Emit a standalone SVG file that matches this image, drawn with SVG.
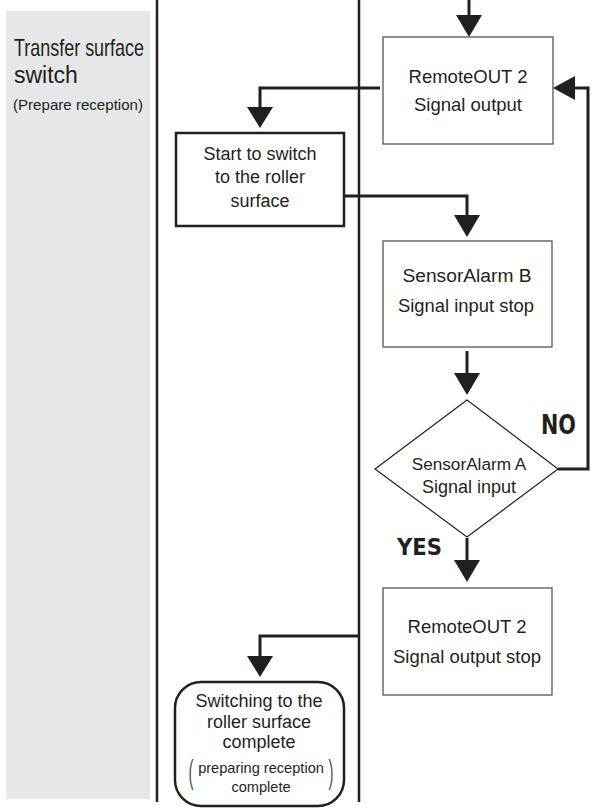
<svg xmlns="http://www.w3.org/2000/svg" width="600" height="809" viewBox="0 0 600 809">
<defs>
<style>
.t{font-family:"Liberation Sans",Arial,sans-serif;fill:#231f20;text-anchor:middle}
.lbl{font-family:"DejaVu Sans Condensed","DejaVu Sans",sans-serif;font-weight:bold;fill:#231f20}
.box{fill:#fff;stroke:#555;stroke-width:1.3}
.thick{fill:#fff;stroke:#231f20;stroke-width:2.5}
.lane{stroke:#231f20;stroke-width:2.5;fill:none}
.con{stroke:#231f20;stroke-width:3;fill:none}
.head{fill:#231f20}
</style>
</defs>
<rect x="6" y="11" width="144" height="788" fill="#e6e7e8"/>
<g id="lane-label" font-family="Liberation Sans, Arial, sans-serif" fill="#231f20">
<text x="14" y="56" font-size="24" textLength="130" lengthAdjust="spacingAndGlyphs">Transfer surface</text>
<text x="14" y="83" font-size="23">switch</text>
<text x="13" y="110" font-size="15" textLength="130" lengthAdjust="spacingAndGlyphs">(Prepare reception)</text>
</g>
<g id="lanes">
<line class="lane" x1="157" y1="0" x2="157" y2="802"/>
<line class="lane" x1="359" y1="0" x2="359" y2="802"/>
</g>
<g id="connectors">
<path class="con" d="M469,0 V17"/>
<polygon class="head" points="456,15 482,15 469,37"/>
<path class="con" d="M380,88 H260 V109"/>
<polygon class="head" points="247,107 273,107 260,128"/>
<path class="con" d="M344,196 H467 V217"/>
<polygon class="head" points="454,215 480,215 467,237"/>
<path class="con" d="M467,351 V375"/>
<polygon class="head" points="454,373 480,373 467,395"/>
<path class="con" d="M558,469 H588 V88 H573"/>
<polygon class="head" points="575,76 575,100 553,88"/>
<path class="con" d="M467,538 V562"/>
<polygon class="head" points="454,560 480,560 467,582"/>
<path class="con" d="M360,636 H260 V658"/>
<polygon class="head" points="247,656 273,656 260,677"/>
<text class="lbl" x="541" y="434" font-size="27" textLength="35" lengthAdjust="spacingAndGlyphs">NO</text>
<text class="lbl" x="397" y="555" font-size="23" textLength="45" lengthAdjust="spacingAndGlyphs">YES</text>
</g>
<g id="remoteout-output">
<rect class="box" x="383" y="37" width="170" height="107"/>
<text class="t" x="468" y="83" font-size="18.5">RemoteOUT 2</text>
<text class="t" x="468" y="111" font-size="18.5">Signal output</text>
</g>
<g id="start-switch">
<rect class="thick" x="176" y="133" width="168" height="93"/>
<text class="t" x="260" y="160" font-size="18">Start to switch</text>
<text class="t" x="260" y="183" font-size="18">to the roller</text>
<text class="t" x="260" y="207" font-size="18">surface</text>
</g>
<g id="sensorb">
<rect class="box" x="383" y="241" width="169" height="106"/>
<text class="t" x="467" y="282" font-size="19.2">SensorAlarm B</text>
<text class="t" x="466" y="312" font-size="18.4">Signal input stop</text>
</g>
<g id="sensora">
<polygon points="467,400 558,469 467,537 375,469" fill="#fff" stroke="#231f20" stroke-width="1.2"/>
<text class="t" x="469" y="470" font-size="17.2">SensorAlarm A</text>
<text class="t" x="469" y="493" font-size="18">Signal input</text>
</g>
<g id="remoteout-stop">
<rect class="box" x="383" y="588" width="169" height="107"/>
<text class="t" x="467" y="633" font-size="18.5">RemoteOUT 2</text>
<text class="t" x="467" y="663" font-size="18.5">Signal output stop</text>
</g>
<g id="complete">
<rect class="thick" x="175" y="682" width="169" height="124" rx="26" ry="26"/>
<text class="t" x="259" y="707" font-size="18">Switching to the</text>
<text class="t" x="259" y="728" font-size="18">roller surface</text>
<text class="t" x="259" y="748" font-size="18">complete</text>
<text class="t" x="261" y="773" font-size="14.6">preparing reception</text>
<text class="t" x="261" y="792" font-size="14.6">complete</text>
<text class="t" x="191" y="356" font-size="15" fill="#555" transform="scale(1,2.2)" style="fill:#555">(</text>
<text class="t" x="331" y="356" font-size="15" transform="scale(1,2.2)" style="fill:#555">)</text>
</g>
</svg>
